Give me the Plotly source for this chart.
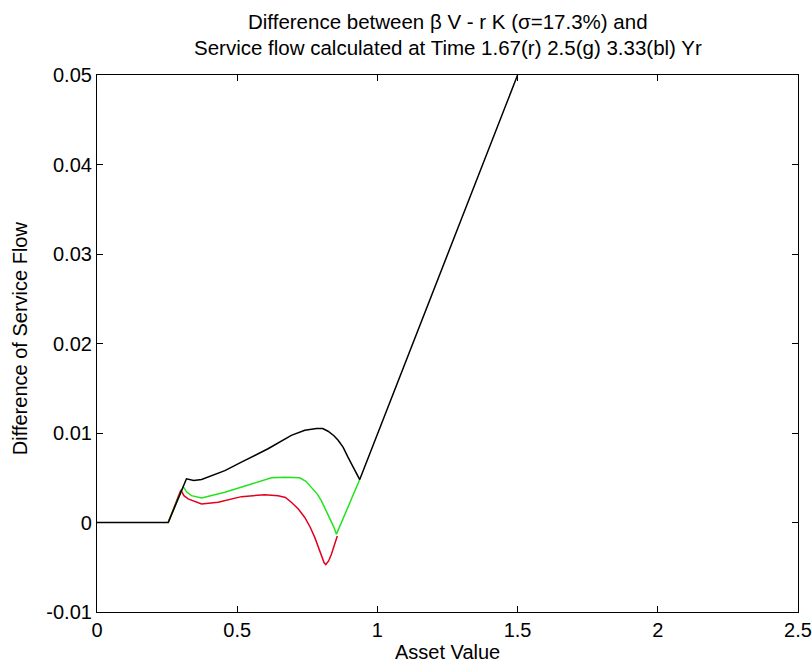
import plotly.graph_objects as go

# Black curve (3.33 Yr)
black_x = [0.0, 0.254, 0.319, 0.345, 0.373, 0.456, 0.515, 0.610, 0.693, 0.741, 0.783, 0.805, 0.824, 0.845, 0.860, 0.878, 0.895, 0.915, 0.937, 1.5]
black_y = [0.0, 0.0, 0.00488, 0.0047, 0.0048, 0.0058, 0.00674, 0.00824, 0.00974, 0.0103, 0.0105, 0.0105, 0.0102, 0.0097, 0.00918, 0.0084, 0.0073, 0.0061, 0.0048, 0.05]

# Green curve (2.5 Yr)
green_x = [0.254, 0.3075, 0.320, 0.337, 0.373, 0.456, 0.551, 0.622, 0.670, 0.723, 0.745, 0.765, 0.785, 0.800, 0.815, 0.830, 0.843, 0.854, 0.895, 0.937]
green_y = [0.0, 0.0040, 0.0034, 0.0030, 0.00274, 0.00337, 0.00431, 0.00499, 0.00505, 0.00499, 0.0046, 0.00393, 0.0032, 0.00244, 0.0015, 0.00056, -0.0004, -0.0013, 0.0017, 0.0048]

# Red curve (1.67 Yr)
red_x = [0.254, 0.299, 0.310, 0.325, 0.373, 0.432, 0.515, 0.598, 0.646, 0.672, 0.693, 0.718, 0.741, 0.760, 0.777, 0.790, 0.801, 0.810, 0.816, 0.826, 0.836, 0.847, 0.857]
red_y = [0.0, 0.00364, 0.0030, 0.00263, 0.00207, 0.00226, 0.00289, 0.00311, 0.0030, 0.0028, 0.00226, 0.0015, 0.00056, -0.0005, -0.00169, -0.0029, -0.0039, -0.0045, -0.0047, -0.0043, -0.00355, -0.0025, -0.0015]

x_ticks = [0, 0.5, 1, 1.5, 2, 2.5]
x_tick_labels = ["0", "0.5", "1", "1.5", "2", "2.5"]
y_ticks = [-0.01, 0, 0.01, 0.02, 0.03, 0.04, 0.05]
y_tick_labels = ["-0.01", "0", "0.01", "0.02", "0.03", "0.04", "0.05"]

title_lines = [
    "Difference between β V - r K (σ=17.3%) and",
    "Service flow calculated at Time 1.67(r) 2.5(g) 3.33(bl) Yr",
]
x_title = "Asset Value"
y_title = "Difference of Service Flow"

font_family = "Liberation Sans, Arial, sans-serif"

fig = go.Figure()
fig.add_trace(go.Scatter(x=red_x, y=red_y, mode="lines", line=dict(color="#e3001e", width=1.5), showlegend=False))
fig.add_trace(go.Scatter(x=green_x, y=green_y, mode="lines", line=dict(color="#22e41a", width=1.5), showlegend=False))
fig.add_trace(go.Scatter(x=black_x, y=black_y, mode="lines", line=dict(color="#000000", width=1.5), showlegend=False))

axis_common = dict(
    showgrid=False, zeroline=False, showline=True, linecolor="black", linewidth=1.2,
    ticks="inside", ticklen=6, tickcolor="black", mirror="ticks",
    tickfont=dict(family=font_family, size=20, color="black"),
    automargin=False,
)

for line_text, ypos in zip(title_lines, [1.0987, 1.0503]):
    fig.add_annotation(
        text=line_text, xref="paper", yref="paper", x=0.5, y=ypos,
        xanchor="center", yanchor="middle", showarrow=False,
        font=dict(family=font_family, size=20.5, color="black"),
    )

fig.add_annotation(
    text=x_title, xref="paper", yref="paper", x=0.5, y=-0.0745,
    xanchor="center", yanchor="middle", showarrow=False,
    font=dict(family=font_family, size=20, color="black"),
)
fig.add_annotation(
    text=y_title, xref="paper", yref="paper", x=-0.1098, y=0.51,
    xanchor="center", yanchor="middle", showarrow=False, textangle=-90,
    font=dict(family=font_family, size=20, color="black"),
)

fig.update_layout(
    width=812, height=666,
    margin=dict(l=97, r=14, t=75, b=54),
    paper_bgcolor="white", plot_bgcolor="white",
    font=dict(family=font_family, color="black"),
    xaxis=dict(range=[0, 2.5], tickvals=x_ticks, ticktext=x_tick_labels, **axis_common),
    yaxis=dict(range=[-0.01, 0.05], tickvals=y_ticks, ticktext=y_tick_labels, **axis_common),
)

fig.write_html("out.html")
